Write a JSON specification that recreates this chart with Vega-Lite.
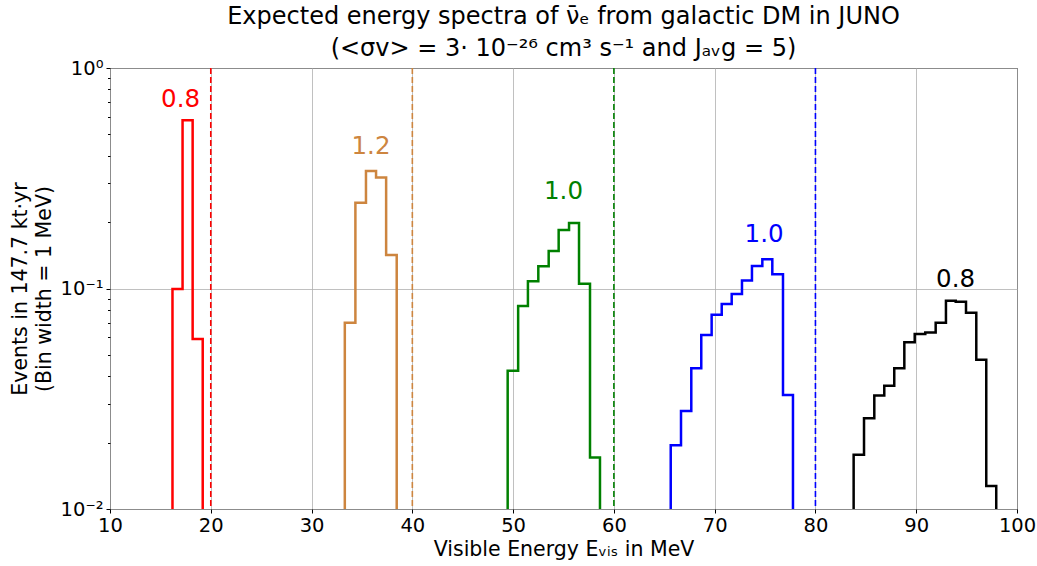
{
  "$schema": "https://vega.github.io/schema/vega-lite/v6.json",
  "width": 907,
  "height": 441,
  "autosize": "none",
  "padding": {"left": 110, "top": 68, "right": 20, "bottom": 57},
  "background": "white",
  "config": {
    "font": "DejaVu Sans",
    "view": {"stroke": "black", "strokeWidth": 1},
    "axis": {
      "domain": false,
      "tickColor": "black",
      "labelColor": "black",
      "titleColor": "black",
      "labelFontSize": 19.5,
      "titleFontSize": 20.5,
      "titleFontWeight": "normal",
      "gridColor": "#b0b0b0",
      "gridWidth": 0.8
    }
  },
  "title": {
    "text": ["Expected energy spectra of ν̄ₑ from galactic DM in JUNO", "(<σv> = 3· 10⁻²⁶ cm³ s⁻¹ and  Jₐᵥg = 5)"],
    "fontSize": 24,
    "fontWeight": "normal",
    "lineHeight": 32,
    "offset": -3,
    "anchor": "middle",
    "color": "black"
  },
  "datasets": {
    "hist": [
      {"series": "s1", "i": 0, "e": 16.2, "v": 0.01},
      {"series": "s1", "i": 1, "e": 17.2, "v": 0.0995},
      {"series": "s1", "i": 2, "e": 18.2, "v": 0.58},
      {"series": "s1", "i": 3, "e": 19.2, "v": 0.059},
      {"series": "s1", "i": 4, "e": 19.2, "v": 0.01},

      {"series": "s2", "i": 0, "e": 33.3, "v": 0.01},
      {"series": "s2", "i": 1, "e": 34.35, "v": 0.070},
      {"series": "s2", "i": 2, "e": 35.4, "v": 0.245},
      {"series": "s2", "i": 3, "e": 36.4, "v": 0.341},
      {"series": "s2", "i": 4, "e": 37.4, "v": 0.319},
      {"series": "s2", "i": 5, "e": 38.45, "v": 0.142},
      {"series": "s2", "i": 6, "e": 38.45, "v": 0.01},

      {"series": "s3", "i": 0, "e": 49.46, "v": 0.01},
      {"series": "s3", "i": 1, "e": 50.5, "v": 0.0424},
      {"series": "s3", "i": 2, "e": 51.47, "v": 0.0833},
      {"series": "s3", "i": 3, "e": 52.5, "v": 0.108},
      {"series": "s3", "i": 4, "e": 53.53, "v": 0.126},
      {"series": "s3", "i": 5, "e": 54.52, "v": 0.148},
      {"series": "s3", "i": 6, "e": 55.55, "v": 0.184},
      {"series": "s3", "i": 7, "e": 56.54, "v": 0.198},
      {"series": "s3", "i": 8, "e": 57.63, "v": 0.105},
      {"series": "s3", "i": 9, "e": 58.62, "v": 0.0171},
      {"series": "s3", "i": 10, "e": 58.62, "v": 0.01},

      {"series": "s4", "i": 0, "e": 65.64, "v": 0.01},
      {"series": "s4", "i": 1, "e": 66.66, "v": 0.01945},
      {"series": "s4", "i": 2, "e": 67.68, "v": 0.0278},
      {"series": "s4", "i": 3, "e": 68.67, "v": 0.0435},
      {"series": "s4", "i": 4, "e": 69.70, "v": 0.0615},
      {"series": "s4", "i": 5, "e": 70.70, "v": 0.076},
      {"series": "s4", "i": 6, "e": 71.69, "v": 0.0851},
      {"series": "s4", "i": 7, "e": 72.71, "v": 0.0944},
      {"series": "s4", "i": 8, "e": 73.70, "v": 0.1086},
      {"series": "s4", "i": 9, "e": 74.73, "v": 0.1265},
      {"series": "s4", "i": 10, "e": 75.72, "v": 0.1357},
      {"series": "s4", "i": 11, "e": 76.78, "v": 0.116},
      {"series": "s4", "i": 12, "e": 77.77, "v": 0.0329},
      {"series": "s4", "i": 13, "e": 77.77, "v": 0.01},

      {"series": "s5", "i": 0, "e": 83.79, "v": 0.01},
      {"series": "s5", "i": 1, "e": 84.82, "v": 0.0176},
      {"series": "s5", "i": 2, "e": 85.84, "v": 0.0258},
      {"series": "s5", "i": 3, "e": 86.83, "v": 0.0327},
      {"series": "s5", "i": 4, "e": 87.82, "v": 0.0362},
      {"series": "s5", "i": 5, "e": 88.82, "v": 0.0435},
      {"series": "s5", "i": 6, "e": 89.85, "v": 0.057},
      {"series": "s5", "i": 7, "e": 90.90, "v": 0.0622},
      {"series": "s5", "i": 8, "e": 91.93, "v": 0.0631},
      {"series": "s5", "i": 9, "e": 92.95, "v": 0.070},
      {"series": "s5", "i": 10, "e": 93.92, "v": 0.088},
      {"series": "s5", "i": 11, "e": 94.94, "v": 0.0871},
      {"series": "s5", "i": 12, "e": 95.96, "v": 0.0777},
      {"series": "s5", "i": 13, "e": 96.95, "v": 0.0475},
      {"series": "s5", "i": 14, "e": 97.94, "v": 0.0127},
      {"series": "s5", "i": 15, "e": 97.94, "v": 0.01}
    ],
    "cuts": [
      {"series": "s1", "x": 20},
      {"series": "s2", "x": 40},
      {"series": "s3", "x": 60},
      {"series": "s4", "x": 80}
    ],
    "labels": [
      {"series": "s1", "x": 17.0, "y": 0.716, "label": "0.8"},
      {"series": "s2", "x": 35.9, "y": 0.438, "label": "1.2"},
      {"series": "s3", "x": 55.0, "y": 0.274, "label": "1.0"},
      {"series": "s4", "x": 74.9, "y": 0.175, "label": "1.0"},
      {"series": "s5", "x": 93.9, "y": 0.109, "label": "0.8"}
    ]
  },
  "layer": [
    {
      "data": {"name": "hist"},
      "mark": {"type": "line", "interpolate": "step-before", "strokeWidth": 2.5, "clip": true},
      "encoding": {
        "x": {
          "field": "e", "type": "quantitative",
          "scale": {"domain": [10, 100], "nice": false, "zero": false},
          "axis": {
            "title": "Visible Energy Eᵥᵢₛ in MeV",
            "values": [10, 20, 30, 40, 50, 60, 70, 80, 90, 100],
            "grid": true,
            "tickSize": 4,
            "labelPadding": 3,
            "titlePadding": 5,
            "labelFlush": false
          }
        },
        "y": {
          "field": "v", "type": "quantitative",
          "scale": {"type": "log", "domain": [0.01, 1], "nice": false},
          "axis": {
            "title": ["Events in 147.7 kt·yr", "(Bin width = 1 MeV)"],
            "titleLineHeight": 24,
            "titlePadding": 6,
            "values": [0.01, 0.02, 0.03, 0.04, 0.05, 0.06, 0.07, 0.08, 0.09, 0.1, 0.2, 0.3, 0.4, 0.5, 0.6, 0.7, 0.8, 0.9, 1],
            "labelExpr": "datum.value == 1 ? '10⁰' : datum.value == 0.1 ? '10⁻¹' : datum.value == 0.01 ? '10⁻²' : ''",
            "grid": true,
            "gridOpacity": {"condition": {"test": "datum.value == 1 || datum.value == 0.1 || datum.value == 0.01", "value": 1}, "value": 0},
            "tickSize": {"condition": {"test": "datum.value == 1 || datum.value == 0.1 || datum.value == 0.01", "value": 4}, "value": 2.5},
            "labelPadding": 3,
            "labelFlush": false
          }
        },
        "order": {"field": "i", "type": "quantitative"},
        "color": {
          "field": "series", "type": "nominal",
          "scale": {"domain": ["s1", "s2", "s3", "s4", "s5"], "range": ["#ff0000", "#cd853f", "#008000", "#0000ff", "#000000"]},
          "legend": null
        }
      }
    },
    {
      "data": {"name": "cuts"},
      "mark": {"type": "rule", "strokeDash": [6, 3], "strokeWidth": 1.6},
      "encoding": {
        "x": {"field": "x", "type": "quantitative"},
        "color": {"field": "series", "type": "nominal", "legend": null}
      }
    },
    {
      "data": {"name": "labels"},
      "mark": {"type": "text", "fontSize": 24.5, "align": "center", "baseline": "middle"},
      "encoding": {
        "x": {"field": "x", "type": "quantitative"},
        "y": {"field": "y", "type": "quantitative"},
        "text": {"field": "label"},
        "color": {"field": "series", "type": "nominal", "legend": null}
      }
    }
  ]
}
